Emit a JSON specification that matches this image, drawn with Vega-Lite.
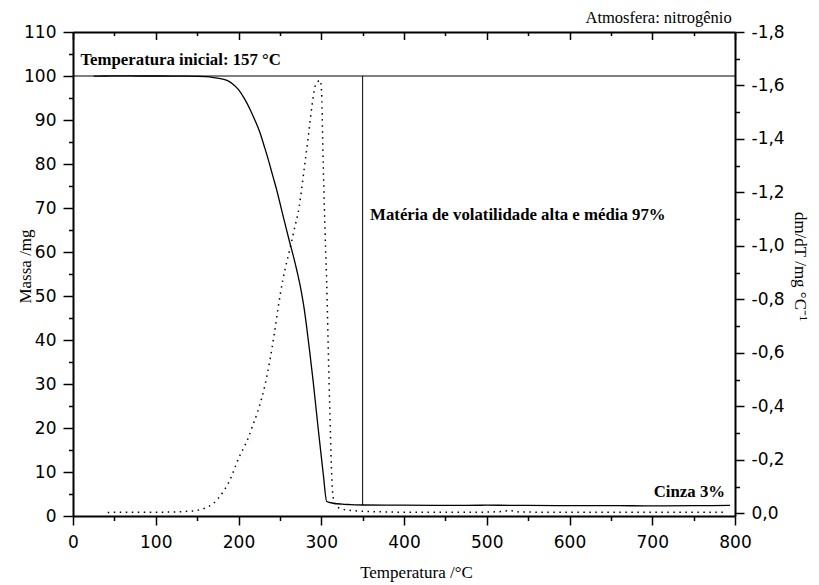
{
  "$schema": "https://vega.github.io/schema/vega-lite/v6.json",
  "width": 662,
  "height": 484,
  "autosize": {"type": "none"},
  "padding": {"left": 73, "top": 32, "right": 84, "bottom": 69},
  "background": "white",
  "datasets": {
    "tg": [
      {"T": 25, "m": 99.95}, {"T": 40, "m": 100}, {"T": 60, "m": 100.05}, {"T": 80, "m": 100},
      {"T": 100, "m": 100}, {"T": 120, "m": 99.97}, {"T": 140, "m": 99.95}, {"T": 150, "m": 99.92},
      {"T": 160, "m": 99.85}, {"T": 170, "m": 99.65}, {"T": 178, "m": 99.4}, {"T": 186, "m": 99.0},
      {"T": 193, "m": 98.2}, {"T": 200, "m": 96.9}, {"T": 207, "m": 94.9}, {"T": 214, "m": 92.4},
      {"T": 220, "m": 89.9}, {"T": 226, "m": 87.1}, {"T": 231, "m": 84.1}, {"T": 236, "m": 81.0},
      {"T": 241, "m": 77.6}, {"T": 246, "m": 74.2}, {"T": 250, "m": 71.2}, {"T": 254, "m": 68.1},
      {"T": 258, "m": 65.1}, {"T": 262, "m": 62.1}, {"T": 266, "m": 59.3}, {"T": 271, "m": 55.4},
      {"T": 276, "m": 50.9}, {"T": 279, "m": 47.6}, {"T": 282, "m": 43.5}, {"T": 286, "m": 37.4},
      {"T": 290, "m": 31.0}, {"T": 296, "m": 20.4}, {"T": 302.5, "m": 9.4}, {"T": 306.6, "m": 3.3},
      {"T": 315, "m": 2.9}, {"T": 325, "m": 2.7}, {"T": 335, "m": 2.6}, {"T": 350, "m": 2.5},
      {"T": 400, "m": 2.45}, {"T": 450, "m": 2.4}, {"T": 500, "m": 2.45}, {"T": 550, "m": 2.4},
      {"T": 600, "m": 2.35}, {"T": 650, "m": 2.35}, {"T": 700, "m": 2.3}, {"T": 750, "m": 2.35},
      {"T": 794, "m": 2.4}
    ],
    "dtg": [
      {"T": 42, "d": -0.003}, {"T": 60, "d": -0.004}, {"T": 80, "d": -0.004}, {"T": 100, "d": -0.004},
      {"T": 120, "d": -0.005}, {"T": 135, "d": -0.007}, {"T": 145.4, "d": -0.009}, {"T": 155, "d": -0.015},
      {"T": 163.5, "d": -0.025}, {"T": 170, "d": -0.038}, {"T": 175.6, "d": -0.056}, {"T": 183, "d": -0.088},
      {"T": 189.7, "d": -0.125}, {"T": 195, "d": -0.165}, {"T": 199.8, "d": -0.204}, {"T": 206, "d": -0.243},
      {"T": 211.8, "d": -0.282}, {"T": 217, "d": -0.327}, {"T": 222.7, "d": -0.376}, {"T": 228, "d": -0.43},
      {"T": 232, "d": -0.48}, {"T": 238, "d": -0.573}, {"T": 243.3, "d": -0.673}, {"T": 248.1, "d": -0.773},
      {"T": 253.5, "d": -0.872}, {"T": 258.3, "d": -0.94}, {"T": 263, "d": -1.0}, {"T": 266.5, "d": -1.05},
      {"T": 273.5, "d": -1.15}, {"T": 279.2, "d": -1.284}, {"T": 284.3, "d": -1.408}, {"T": 289.2, "d": -1.533},
      {"T": 292.4, "d": -1.595}, {"T": 296, "d": -1.615}, {"T": 298.5, "d": -1.62}, {"T": 300.5, "d": -1.571},
      {"T": 301.8, "d": -1.384}, {"T": 303.3, "d": -1.197}, {"T": 305.4, "d": -0.972}, {"T": 306.6, "d": -0.86},
      {"T": 308.5, "d": -0.611}, {"T": 310.6, "d": -0.361}, {"T": 312.3, "d": -0.174}, {"T": 313.8, "d": -0.075},
      {"T": 316.5, "d": -0.035}, {"T": 319.9, "d": -0.022}, {"T": 332.7, "d": -0.012}, {"T": 350, "d": -0.008},
      {"T": 380, "d": -0.005}, {"T": 420, "d": -0.004}, {"T": 480, "d": -0.004}, {"T": 515, "d": -0.006},
      {"T": 528, "d": -0.01}, {"T": 540, "d": -0.005}, {"T": 600, "d": -0.004}, {"T": 700, "d": -0.004},
      {"T": 790, "d": -0.004}
    ]
  },
  "config": {
    "view": {"stroke": null},
    "axis": {
      "grid": false,
      "domainColor": "black",
      "domainWidth": 2,
      "tickColor": "black",
      "tickWidth": 1.5,
      "labelFont": "DejaVu Sans",
      "labelFontSize": 17,
      "labelColor": "black",
      "titleFont": "Liberation Serif",
      "titleFontSize": 17,
      "titleFontWeight": "normal",
      "titleColor": "black",
      "labelFlush": false,
      "labelBound": false,
      "labelOverlap": false
    }
  },
  "layer": [
    {
      "data": {"name": "tg"},
      "mark": {"type": "line", "color": "black", "strokeWidth": 1.3, "interpolate": "monotone"},
      "encoding": {
        "x": {
          "field": "T", "type": "quantitative",
          "scale": {"domain": [0, 800], "nice": false},
          "axis": {
            "orient": "bottom",
            "values": [0, 100, 200, 300, 400, 500, 600, 700, 800],
            "tickSize": 9,
            "labelPadding": 9,
            "title": "Temperatura /°C",
            "titleX": 343, "titleY": 61, "titleAlign": "center", "titleBaseline": "alphabetic"
          }
        },
        "y": {
          "field": "m", "type": "quantitative",
          "scale": {"domain": [0, 110], "nice": false},
          "axis": {
            "orient": "left",
            "values": [0, 10, 20, 30, 40, 50, 60, 70, 80, 90, 100, 110],
            "tickSize": 10,
            "labelPadding": 7,
            "title": "Massa /mg",
            "titleAngle": -90, "titleX": -43, "titleY": 234, "titleAlign": "center", "titleBaseline": "alphabetic"
          }
        }
      }
    },
    {
      "data": {"values": [{"T": 0, "m": 100}, {"T": 800, "m": 100}]},
      "mark": {"type": "line", "color": "black", "strokeWidth": 1},
      "encoding": {
        "x": {
          "field": "T", "type": "quantitative",
          "scale": {"domain": [0, 800], "nice": false},
          "axis": {"orient": "bottom", "values": [50, 150, 250, 350, 450, 550, 650, 750], "tickSize": 4.5, "labels": false, "domain": false, "title": null}
        },
        "y": {
          "field": "m", "type": "quantitative",
          "scale": {"domain": [0, 110], "nice": false},
          "axis": {"orient": "left", "values": [5, 15, 25, 35, 45, 55, 65, 75, 85, 95, 105], "tickSize": 4.5, "labels": false, "domain": false, "title": null}
        }
      }
    },
    {
      "data": {"values": [{"T": 350, "m": 100, "m2": 2.5}]},
      "mark": {"type": "rule", "color": "black", "strokeWidth": 1},
      "encoding": {
        "x": {
          "field": "T", "type": "quantitative",
          "scale": {"domain": [0, 800], "nice": false},
          "axis": {"orient": "top", "values": [0, 100, 200, 300, 400, 500, 600, 700, 800], "tickSize": -7.5, "labels": false, "title": null}
        },
        "y": {"field": "m", "type": "quantitative", "scale": {"domain": [0, 110], "nice": false}, "axis": null},
        "y2": {"field": "m2"}
      }
    },
    {
      "data": {"name": "dtg"},
      "mark": {"type": "line", "color": "black", "strokeWidth": 1.5, "strokeDash": [1.5, 4.5], "interpolate": "monotone"},
      "encoding": {
        "x": {
          "field": "T", "type": "quantitative",
          "scale": {"domain": [0, 800], "nice": false},
          "axis": {"orient": "top", "values": [50, 150, 250, 350, 450, 550, 650, 750], "tickSize": -3.5, "labels": false, "domain": false, "title": null}
        },
        "y": {
          "field": "d", "type": "quantitative",
          "scale": {"domain": [-1.8, 0.01], "reverse": true, "nice": false, "zero": false},
          "axis": {
            "orient": "right",
            "values": [-1.8, -1.6, -1.4, -1.2, -1.0, -0.8, -0.6, -0.4, -0.2, 0],
            "labelExpr": "(datum.value < 0 ? '-' : '') + replace(format(abs(datum.value), '.1f'), '.', ',')",
            "tickSize": 9,
            "labelPadding": 7,
            "title": "dm/dT /mg °C⁻¹",
            "titleAngle": 90, "titleX": 59, "titleY": 234, "titleAlign": "center", "titleBaseline": "alphabetic"
          }
        }
      }
    },
    {
      "data": {"name": "dtg"},
      "mark": {"type": "line", "strokeOpacity": 0},
      "encoding": {
        "x": {"field": "T", "type": "quantitative", "scale": {"domain": [0, 800], "nice": false}, "axis": null},
        "y": {
          "field": "d", "type": "quantitative",
          "scale": {"domain": [-1.8, 0.01], "reverse": true, "nice": false, "zero": false},
          "axis": {"orient": "right", "values": [-1.7, -1.5, -1.3, -1.1, -0.9, -0.7, -0.5, -0.3, -0.1], "tickSize": 4.5, "labels": false, "domain": false, "title": null}
        }
      }
    },
    {
      "data": {
        "values": [
          {"T": 9, "m": 102.4, "label": "Temperatura inicial: 157 °C"},
          {"T": 359, "m": 67.2, "label": "Matéria de volatilidade alta e média 97%"}
        ]
      },
      "mark": {"type": "text", "align": "left", "baseline": "alphabetic", "font": "Liberation Serif", "fontSize": 16.8, "fontWeight": "bold", "color": "black"},
      "encoding": {
        "x": {"field": "T", "type": "quantitative", "scale": {"domain": [0, 800], "nice": false}, "axis": null},
        "y": {"field": "m", "type": "quantitative", "scale": {"domain": [0, 110], "nice": false}, "axis": null},
        "text": {"field": "label"}
      }
    },
    {
      "data": {"values": [{"T": 788, "m": 4.4, "label": "Cinza 3%"}]},
      "mark": {"type": "text", "align": "right", "baseline": "alphabetic", "font": "Liberation Serif", "fontSize": 16.8, "fontWeight": "bold", "color": "black"},
      "encoding": {
        "x": {"field": "T", "type": "quantitative", "scale": {"domain": [0, 800], "nice": false}, "axis": null},
        "y": {"field": "m", "type": "quantitative", "scale": {"domain": [0, 110], "nice": false}, "axis": null},
        "text": {"field": "label"}
      }
    },
    {
      "data": {"values": [{"T": 796, "m": 112.1, "label": "Atmosfera: nitrogênio"}]},
      "mark": {"type": "text", "align": "right", "baseline": "alphabetic", "font": "Liberation Serif", "fontSize": 16.5, "fontWeight": "normal", "color": "black"},
      "encoding": {
        "x": {"field": "T", "type": "quantitative", "scale": {"domain": [0, 800], "nice": false}, "axis": null},
        "y": {"field": "m", "type": "quantitative", "scale": {"domain": [0, 110], "nice": false}, "axis": null},
        "text": {"field": "label"}
      }
    }
  ],
  "resolve": {"scale": {"y": "independent"}, "axis": {"x": "independent", "y": "independent"}}
}
